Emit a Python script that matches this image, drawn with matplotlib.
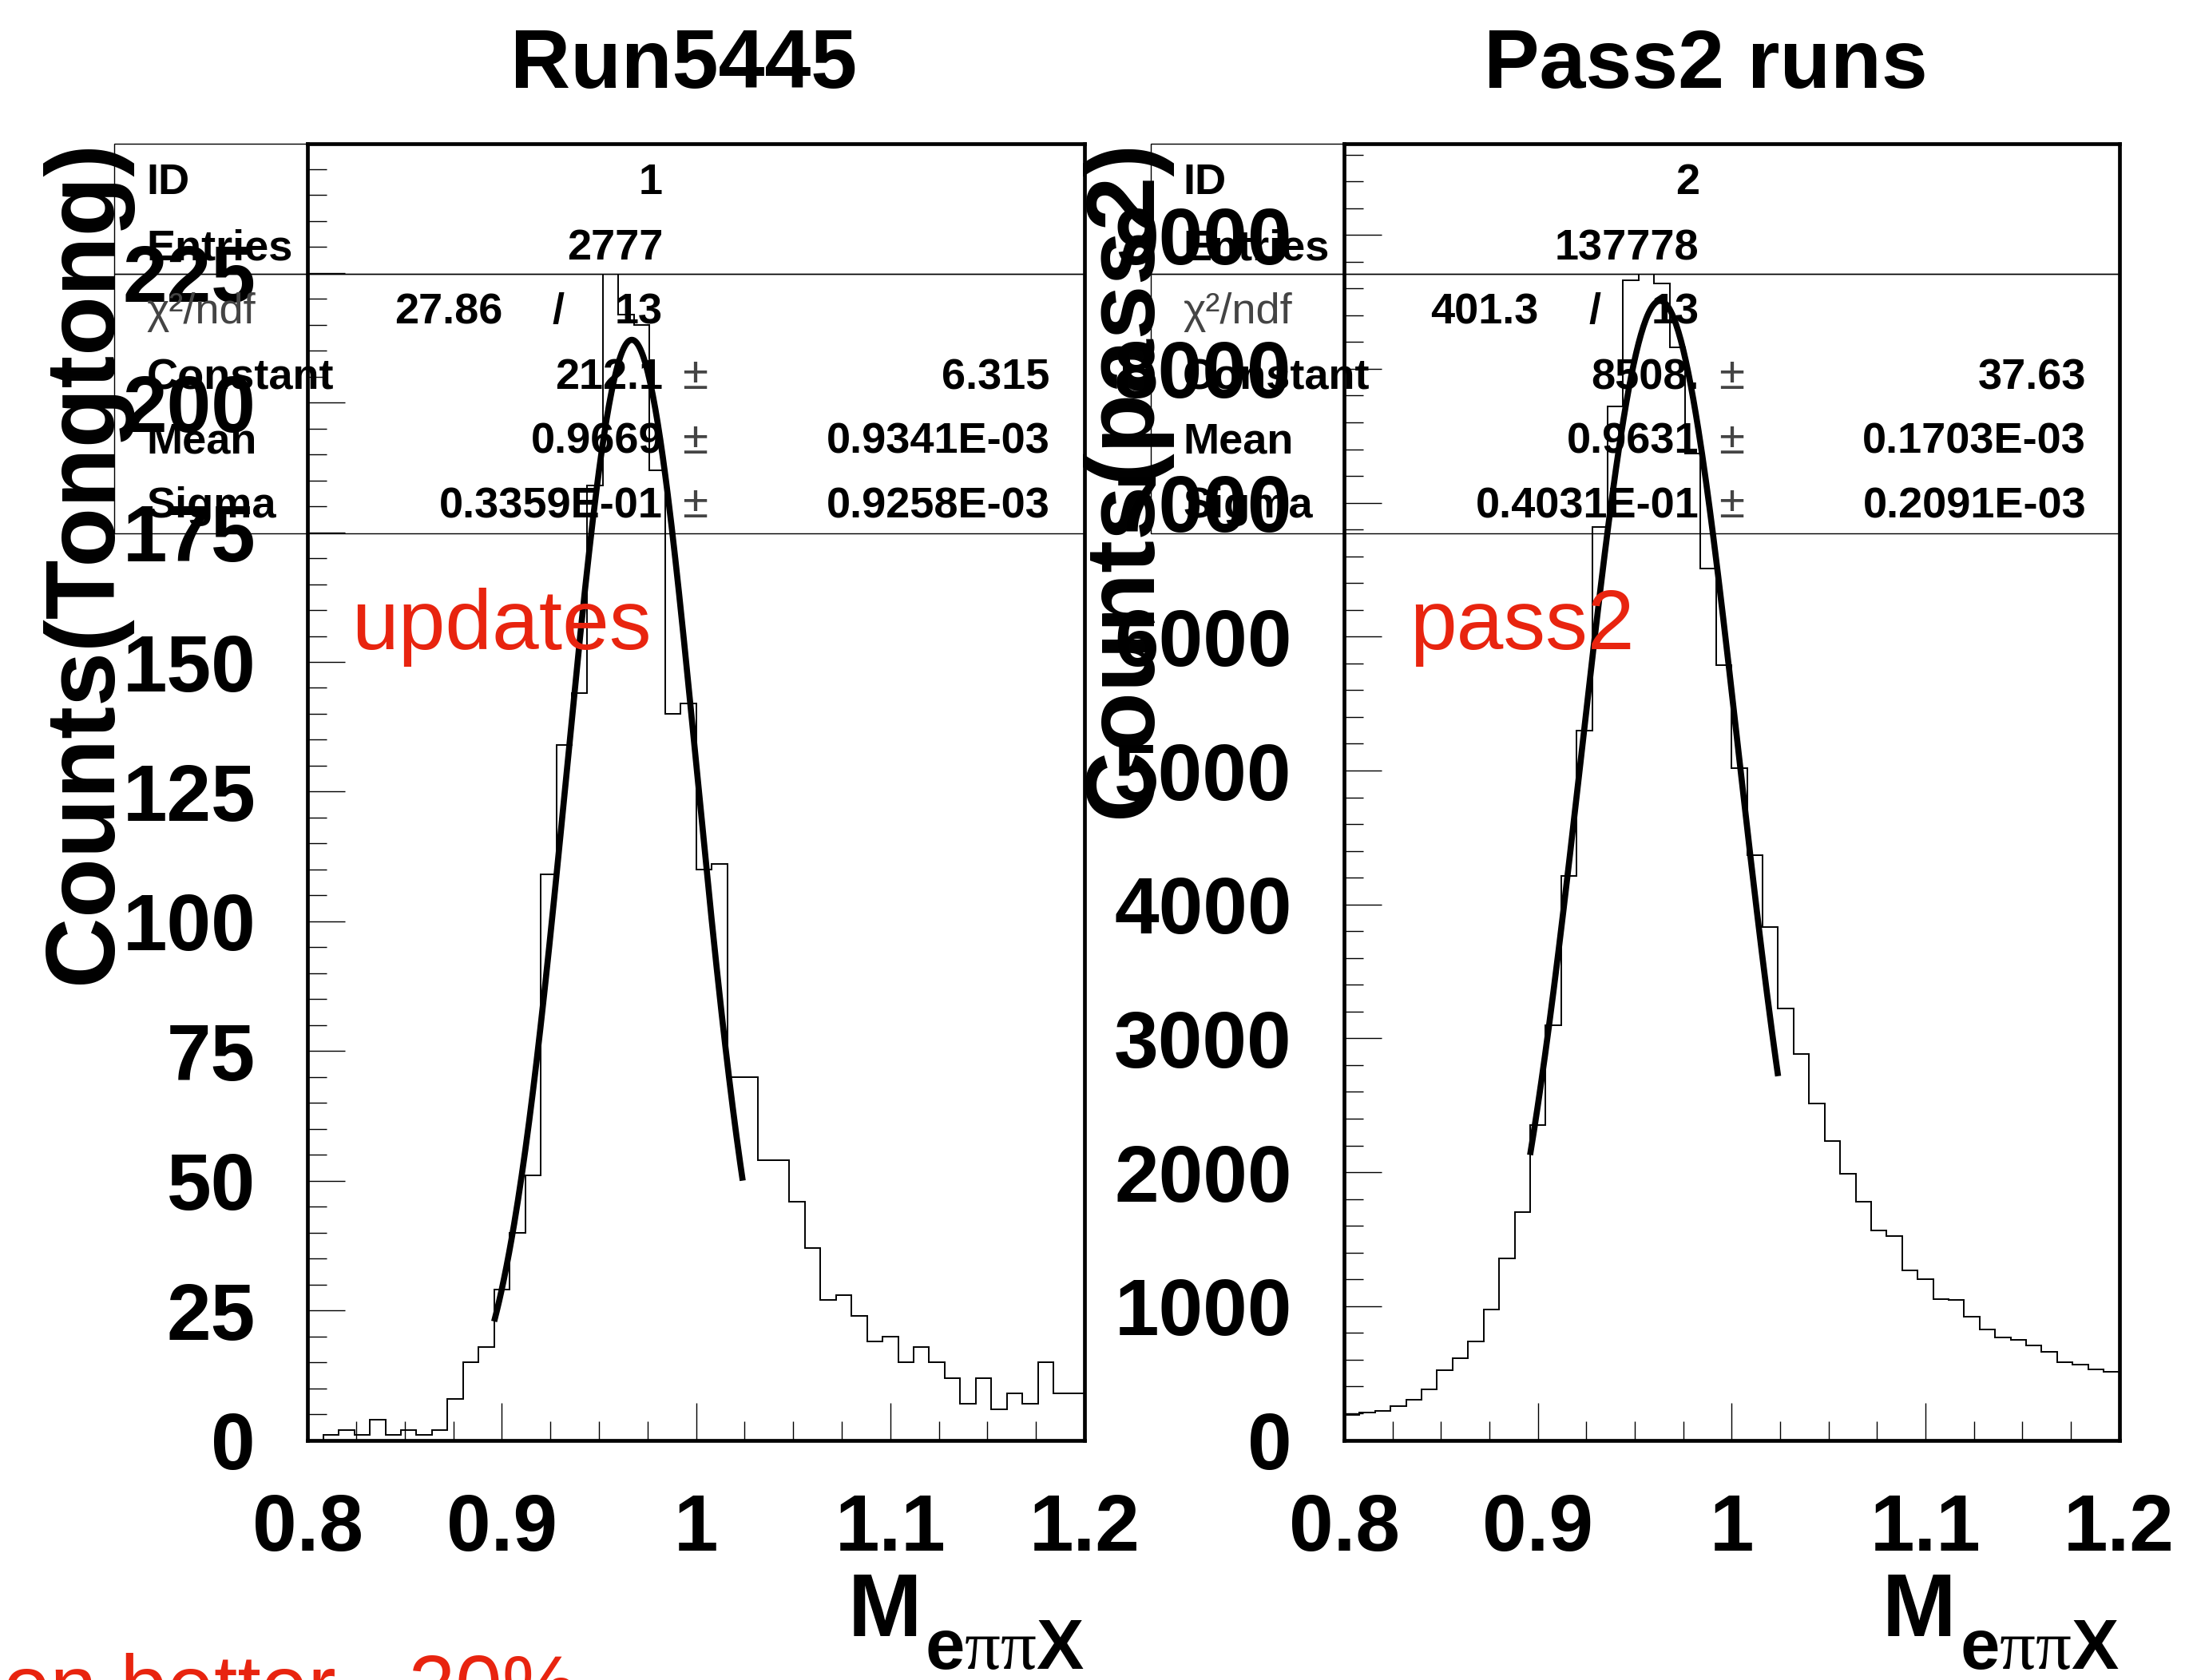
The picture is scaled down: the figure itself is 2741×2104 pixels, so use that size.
import numpy as np
import matplotlib
matplotlib.use('Agg')
import matplotlib.pyplot as plt
from matplotlib.patches import Rectangle
from matplotlib.ticker import MultipleLocator

plt.rcParams['font.family'] = ['Liberation Sans', 'DejaVu Sans']
plt.rcParams['mathtext.fontset'] = 'custom'
plt.rcParams['mathtext.bf'] = 'Liberation Sans:bold'
plt.rcParams['mathtext.rm'] = 'Liberation Serif'
plt.rcParams['mathtext.it'] = 'Liberation Serif:italic'

## data (50 bins, 0.8 - 1.2)
##---------------------------
bin_edges = np.linspace(0.8, 1.2, 51)

counts_run5445 = [0, 1, 2, 1, 4, 1, 2, 1, 2, 8,
                  15, 18, 29, 40, 51, 109, 134, 144, 184, 238,
                  217, 215, 187, 140, 142, 110, 111, 70, 70, 54,
                  54, 46, 37, 27, 28, 24, 19, 20, 15, 18,
                  15, 12, 7, 12, 6, 9, 7, 15, 9, 9]

counts_pass2 = [190, 204, 220, 256, 304, 380, 520, 614, 736, 974,
                1356, 1700, 2350, 3095, 4210, 5300, 6820, 7720, 8660, 9220,
                8640, 8160, 7370, 6510, 5790, 5020, 4370, 3830, 3225, 2885,
                2515, 2235, 1990, 1780, 1566, 1526, 1270, 1204, 1050, 1044,
                924, 824, 764, 746, 704, 660, 580, 564, 530, 510]

# gaussian fit results from the stat boxes
fit_range = (0.896, 1.024)
fit_run5445 = (212.1, 0.9669, 0.03359)
fit_pass2 = (8508., 0.9631, 0.04031)

stats_run5445 = {'ID': '1', 'Entries': '2777', 'chi2': '27.86', 'ndf': '13',
                 'Constant': ('212.1', '6.315'),
                 'Mean': ('0.9669', '0.9341E-03'),
                 'Sigma': ('0.3359E-01', '0.9258E-03')}
stats_pass2 = {'ID': '2', 'Entries': '137778', 'chi2': '401.3', 'ndf': '13',
               'Constant': ('8508.', '37.63'),
               'Mean': ('0.9631', '0.1703E-03'),
               'Sigma': ('0.4031E-01', '0.2091E-03')}

yticks_run5445 = [0, 25, 50, 75, 100, 125, 150, 175, 200, 225]
yticks_pass2 = [0, 1000, 2000, 3000, 4000, 5000, 6000, 7000, 8000, 9000]
xticks = [0.8, 0.9, 1.0, 1.1, 1.2]
xticklabels = ['0.8', '0.9', '1', '1.1', '1.2']

RED = '#e8240f'
W, H = 2741, 2104


def fx(x):
    return x / W


def fy(y):
    return 1 - y / H


fig = plt.figure(figsize=(W / 100, H / 100), dpi=100)

panels = [
    dict(left=385.3, right=1358.0, counts=counts_run5445, fit=fit_run5445,
         stats=stats_run5445, title='Run5445', title_x=855.7,
         ylabel='Counts(Tongtong)', ylabel_x=139.0, yticks=yticks_run5445,
         yminor=5, note='updates', note_x=440.5),
    dict(left=1683.0, right=2653.5, counts=counts_pass2, fit=fit_pass2,
         stats=stats_pass2, title='Pass2 runs', title_x=2136.0,
         ylabel='Counts(pass2)', ylabel_x=1441.0, yticks=yticks_pass2,
         yminor=200, note='pass2', note_x=1765.5),
]

top, bottom = 180.0, 1803.5

for p in panels:
    L, R = p['left'], p['right']
    ax = fig.add_axes([fx(L), fy(bottom), (R - L) / W, (bottom - top) / H])
    ax.set_axisbelow(False)

    counts = np.asarray(p['counts'], dtype=float)
    ax.stairs(counts, bin_edges, color='black', linewidth=1.4, zorder=2)

    c, m, s = p['fit']
    xf = np.linspace(fit_range[0], fit_range[1], 200)
    ax.plot(xf, c * np.exp(-0.5 * ((xf - m) / s) ** 2), color='black',
            linewidth=5.5, zorder=2.1, solid_capstyle='butt')

    ax.set_xlim(0.8, 1.2)
    ax.set_ylim(0, 1.05 * counts.max())

    for side in ['top', 'right', 'bottom', 'left']:
        ax.spines[side].set_linewidth(3.4)

    ax.set_xticks(xticks)
    ax.set_xticklabels(xticklabels)
    ax.set_yticks(p['yticks'])
    ax.xaxis.set_minor_locator(MultipleLocator(0.025))
    ax.yaxis.set_minor_locator(MultipleLocator(p['yminor']))
    ax.tick_params(which='both', direction='in', top=False, right=False,
                   width=1.0, labelsize=72, pad=47)
    ax.tick_params(which='major', length=34)
    ax.tick_params(which='minor', length=17)
    for lab in ax.get_xticklabels() + ax.get_yticklabels():
        lab.set_fontweight('bold')

    # stat boxes: upper one opaque, lower (fit) one transparent
    box_left = L - 242.3
    ax.add_artist(Rectangle((fx(box_left), fy(343)), (R - box_left) / W, (343 - top) / H,
                            transform=fig.transFigure, facecolor='white',
                            edgecolor='black', linewidth=1.0, zorder=2.2, clip_on=False))
    ax.add_artist(Rectangle((fx(box_left), fy(668)), (R - box_left) / W, (668 - 343) / H,
                            transform=fig.transFigure, facecolor='none',
                            edgecolor='black', linewidth=1.0, zorder=2.2, clip_on=False))

    st = p['stats']
    lab_x = L - 201.8
    val_x = L + 444.7
    pm_x = L + 485.2
    err_x = L + 929.2
    rows = [243, 325, 405, 487, 568, 648]
    kw = dict(transform=fig.transFigure, fontsize=39, fontweight='bold',
              va='baseline', zorder=3)

    ax.text(fx(lab_x), fy(rows[0]), 'ID', ha='left', **kw)
    ax.text(fx(val_x), fy(rows[0]), st['ID'], ha='right', **kw)
    ax.text(fx(lab_x), fy(rows[1]), 'Entries', ha='left', **kw)
    ax.text(fx(val_x), fy(rows[1]), st['Entries'], ha='right', **kw)
    ax.text(fx(lab_x), fy(rows[2]), 'χ²/ndf', ha='left', transform=fig.transFigure,
            fontsize=39, color='#444444', va='baseline', zorder=3)
    ax.text(fx(L + 243.7), fy(rows[2]), st['chi2'], ha='right', **kw)
    ax.text(fx(L + 313.7), fy(rows[2]), '/', ha='center', **kw)
    ax.text(fx(val_x), fy(rows[2]), st['ndf'], ha='right', **kw)
    for r, name in zip(rows[3:], ['Constant', 'Mean', 'Sigma']):
        val, err = st[name]
        ax.text(fx(lab_x), fy(r), name, ha='left', **kw)
        ax.text(fx(val_x), fy(r), val, ha='right', **kw)
        ax.text(fx(pm_x), fy(r), '±', ha='center', transform=fig.transFigure,
                fontsize=42, color='#444444', va='baseline', zorder=3)
        ax.text(fx(err_x), fy(r), err, ha='right', **kw)

    # titles, axis titles and notes
    fig.text(fx(p['title_x']), fy(110), p['title'], ha='center', va='baseline',
             fontsize=75, fontweight='bold')
    fig.text(fx(p['ylabel_x']), fy(175), p['ylabel'], rotation=90,
             rotation_mode='anchor', ha='right', va='baseline',
             fontsize=88, fontweight='bold', zorder=5)
    fig.text(fx(R - 204.0), fy(2049), 'M', ha='right', va='baseline',
             fontsize=80, fontweight='bold')
    fig.text(fx(R), fy(2090), r'$\mathbf{e}\mathrm{\pi\pi}\mathbf{X}$',
             ha='right', va='baseline', fontsize=64)
    ax.text(fx(p['note_x']), fy(813), p['note'], transform=fig.transFigure,
            ha='left', va='baseline', fontsize=76, color=RED, zorder=4)

fig.text(fx(4), fy(2147), 'on better ~20%', ha='left', va='baseline',
         fontsize=76, color=RED)

plt.savefig('out.png', dpi=100)
